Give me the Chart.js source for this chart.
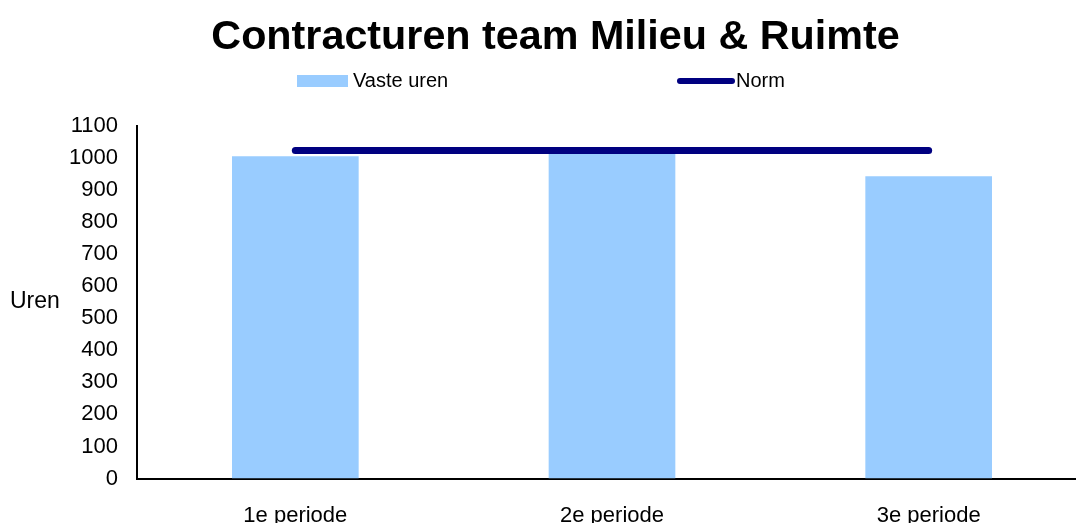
<!DOCTYPE html>
<html>
<head>
<meta charset="utf-8">
<script src="https://cdn.jsdelivr.net/npm/chart.js@4.4.0/dist/chart.umd.min.js"></script>
<style>
  html, body { margin: 0; padding: 0; background: #fff; overflow: hidden; }
  #wrap { width: 1076px; height: 523px; overflow: hidden; }
</style>
</head>
<body>
<div id="wrap"><canvas id="chart" width="1110" height="553"></canvas></div>
<script>
const periods = ["1e periode", "2e periode", "3e periode"];
const vasteUren = [1004, 1012, 942];
const norm = [1022, 1022, 1022];
const yMin = 0, yMax = 1100, yStep = 100;

const barColor = "#99CCFF";
const normColor = "#000080";
const fontFamily = "'Liberation Sans', Arial, Helvetica, sans-serif";

//draws the horizontal "Uren" label and the spread out legend
const extraText = {
    id: "extraText",
    afterDraw(chart) {
        const ctx = chart.ctx;
        const area = chart.chartArea;
        ctx.save();
        ctx.fillStyle = "#000";
        ctx.textAlign = "left";
        ctx.textBaseline = "middle";
        ctx.font = "23px " + fontFamily;
        ctx.fillText("Uren", 10, (area.top + area.bottom) / 2);

        //legend
        const ly = 81;
        ctx.font = "20px " + fontFamily;
        ctx.fillStyle = barColor;
        ctx.fillRect(297, ly - 6, 51, 12);
        ctx.fillStyle = "#000";
        ctx.fillText("Vaste uren", 353, ly);

        ctx.strokeStyle = normColor;
        ctx.lineWidth = 6;
        ctx.lineCap = "round";
        ctx.beginPath();
        ctx.moveTo(680, ly);
        ctx.lineTo(732, ly);
        ctx.stroke();
        ctx.fillText("Norm", 736, ly);
        ctx.restore();
    }
};

let myChart = new Chart(document.getElementById("chart"), {
    plugins: [extraText],
    data: {
        labels: periods,
        datasets: [
            {
                type: "line",
                label: "Norm",
                data: norm,
                borderColor: normColor,
                borderWidth: 7,
                borderCapStyle: "round",
                pointRadius: 0,
                order: 0,
            },
            {
                type: "bar",
                label: "Vaste uren",
                data: vasteUren,
                backgroundColor: barColor,
                barPercentage: 0.4,
                categoryPercentage: 1,
                order: 1,
            },
        ],
    },
    options: {
        responsive: false,
        animation: false,
        layout: { padding: { left: 24, right: 23, top: 0, bottom: 0 } },
        plugins: {
            legend: { display: false },
            tooltip: { enabled: false },
            title: {
                display: true,
                text: "Contracturen team Milieu & Ruimte",
                color: "#000",
                font: { family: fontFamily, size: 41.3, weight: "bold" },
                padding: { top: 13, bottom: 63 },
            },
        },
        scales: {
            x: {
                grid: { display: false, drawTicks: false },
                border: { display: true, color: "#000", width: 2 },
                ticks: { color: "#000", padding: 24, font: { family: fontFamily, size: 22 } },
            },
            y: {
                min: yMin,
                max: yMax,
                afterFit: (scale) => { scale.width = 113; },
                grid: { display: false, drawTicks: false },
                border: { display: true, color: "#000", width: 2 },
                ticks: {
                    stepSize: yStep,
                    color: "#000",
                    padding: 19,
                    font: { family: fontFamily, size: 22 },
                    callback: (value) => String(value),
                },
            },
        },
    },
});
</script>
</body>
</html>
